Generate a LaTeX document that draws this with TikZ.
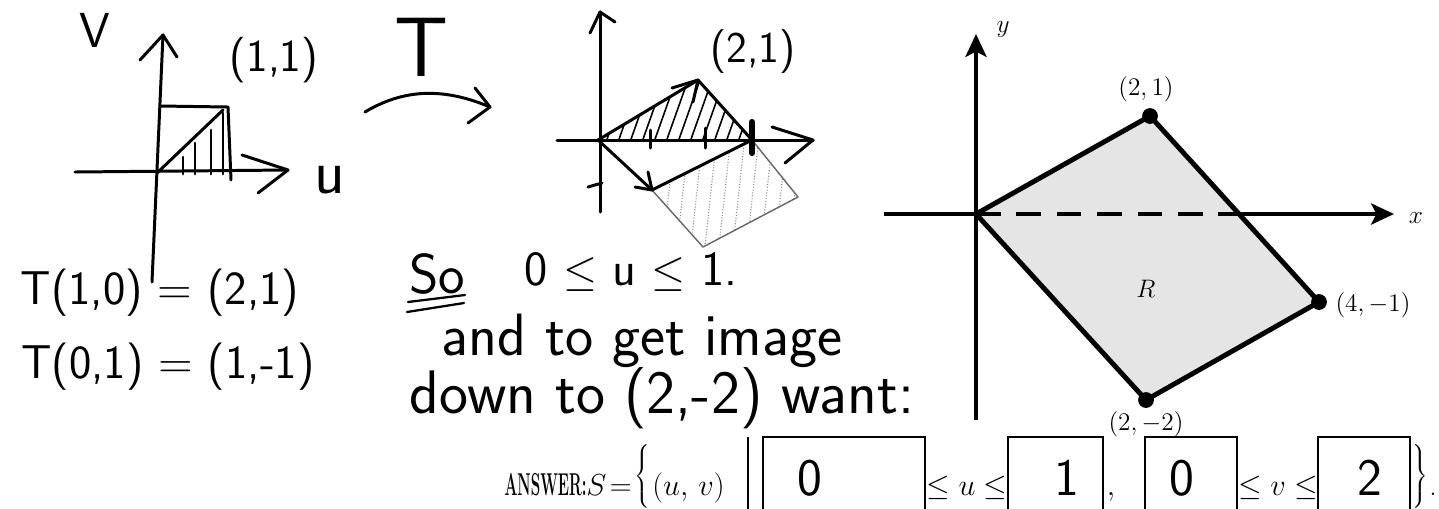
\documentclass[tikz,border=0pt]{standalone}
\usepackage{fontspec}
\usepackage{graphicx}
\usetikzlibrary{arrows.meta}
\tikzset{
  pen/.style={line width=1.7pt,line cap=round,line join=round},
  penthin/.style={line width=0.8pt,black!60,line cap=round,line join=round},
  hand/.style={font=\sffamily\fontsize{#1}{#1}\selectfont,inner sep=0pt},
  hand/.default=27,
  print/.style={font=\fontsize{17}{20}\selectfont,inner sep=0pt},
  ptlabel/.style={font=\fontsize{15}{18}\selectfont,inner sep=0pt},
  edge/.style={line width=2.8pt,line join=round},
  axisline/.style={line width=2.4pt},
  axis/.style={axisline,-{Stealth[length=13pt,width=12pt,inset=3pt]}},
  vertex/.style={circle,fill=black,inner sep=0pt,minimum size=9pt},
  ansbox/.style={draw,line width=0.7pt,minimum height=1.56cm},
}
\begin{document}
\begin{tikzpicture}[x=0.02cm,y=-0.02cm]
\path[use as bounding box] (0,0) rectangle (1439,508);
% left sketch: the square in the uv-plane
\coordinate (vbot) at (152,282);
\coordinate (vtop) at (163,35);
\coordinate (uleft) at (75,172);
\coordinate (uright) at (288,170);
\draw[pen] (vbot) -- (vtop);
\draw[pen] (140,60) -- (vtop) -- (177,57);
\draw[pen] (uleft) -- (uright);
\draw[pen] (242,155) -- (uright) -- (258,193);
\coordinate (sq0) at (157,173);
\coordinate (sqa) at (160,106);
\coordinate (sqb) at (228,107);
\coordinate (sqc) at (231,180);
\draw[pen] (sqa) -- (sqb) -- (sqc);
\draw[pen] (sq0) -- (223,110);
\foreach \hx/\hy in {183/157,195/143,211/130,223/113}
  \draw[pen] (\hx,\hy) -- (\hx,174);
\node[hand=28] (vlab) at (95,30) {V};
\node[hand=26] (pt11) at (274,60) {(1,1)};
\node[hand=36] (ulab) at (330,180) {u};
% the map T
\node[hand=48] (tmap) at (422,47) {T};
\coordinate (ta) at (365,112);
\coordinate (tb) at (490,107);
\draw[pen] (ta) .. controls (405,88) and (445,88) .. (tb);
\draw[pen] (475,88) -- (tb) -- (468,123);
% middle sketch: image of the square
\coordinate (O2) at (598,140);
\coordinate (P) at (698,80);
\coordinate (Q) at (752,140);
\coordinate (M) at (652,190);
\coordinate (Bt) at (703,247);
\coordinate (Rt) at (798,197);
\coordinate (ytop) at (600,12);
\coordinate (xright) at (813,140);
\begin{scope}
  \clip (O2) -- (P) -- (Q) -- cycle;
  \foreach \hx in {606,618,...,762}
    \draw[line width=0.9pt] (\hx,142) -- ++(22,-62);
\end{scope}
\begin{scope}
  \clip (M) -- (Bt) -- (Rt) -- (Q) -- cycle;
  \foreach \hx in {662,676,...,800}
    \draw[black!45,line width=0.6pt,densely dotted] (\hx,255) -- ++(12,-110);
\end{scope}
\draw[penthin] (M) -- (Bt) -- (Rt) -- (Q);
\draw[pen] (600,212) -- (ytop);
\draw[pen] (590,33) -- (ytop) -- (615,22);
\draw[pen] (557,140) -- (xright);
\draw[pen] (772,127) -- (xright) -- (785,163);
\draw[pen] (O2) -- (P) -- (Q);
\draw[pen] (O2) -- (M) -- (Q);
\draw[pen] (672,88) -- (P) -- (693,102);
\draw[pen] (635,187) -- (M) -- (648,172);
\draw[pen] (650,130) -- (650,148);
\draw[pen] (705,128) -- (705,148);
\draw[line width=3.5pt,line cap=round] (752,122) -- (752,153);
\draw[pen] (588,187) -- (602,183);
\node[hand=25] (pt21) at (753,52) {(2,1)};
% handwritten notes
\node[hand=27] (t10) at (160,293) {T(1,0) = (2,1)};
\node[hand=27] (t01) at (168,367) {T(0,1) = (1,-1)};
\node[hand=32] (so) at (437,274) {So};
\coordinate (ul1a) at (408,302);
\coordinate (ul1b) at (465,295);
\coordinate (ul2a) at (407,312);
\coordinate (ul2b) at (464,303);
\draw[pen,line width=1.3pt] (ul1a) -- (ul1b);
\draw[pen,line width=1.3pt] (ul2a) -- (ul2b);
\node[hand=28] (ineq) at (631,272) {0 $\leq$ u $\leq$ 1.};
\node[hand=34] (note1) at (642,341) {and to get image};
\node[hand=35] (note2) at (662,398) {down to (2,-2) want:};
% right diagram: region R
\coordinate (O) at (976,214);
\coordinate (A) at (1150,116);
\coordinate (B) at (1319,302);
\coordinate (C) at (1146,400);
\coordinate (X) at (1239,214);
\coordinate (xl) at (884,214);
\coordinate (xr) at (1394,214);
\coordinate (yb) at (976,420);
\coordinate (yt) at (976,34);
\fill[black!10] (O) -- (A) -- (B) -- (C) -- cycle;
\draw[axisline] (xl) -- (O);
\draw[axis] (X) -- (xr);
\draw[axis] (yb) -- (yt);
\draw[line width=2.8pt,dash pattern=on 14pt off 9pt] (O) -- (X);
\draw[edge] (O) -- (A) -- (B) -- (C) -- cycle;
\foreach \p in {A,B,C}
  \node[vertex] at (\p) {};
\node[ptlabel] (xlab) at (1416,218) {$x$};
\node[ptlabel] (ylab) at (1003,30) {$y$};
\node[ptlabel] (lA) at (1146,89) {$(2,1)$};
\node[ptlabel] (lB) at (1373,305) {$(4,-1)$};
\node[ptlabel] (lC) at (1146,424) {$(2,-2)$};
\node[ptlabel] (lR) at (1146,289) {$R$};
% answer line
\node[print,anchor=base east,font=\fontsize{18}{20}\selectfont] (ans) at (587,495) {\scalebox{0.48}[1]{\bfseries ANSWER:}};
\node[print,anchor=base east] (seq) at (632,495) {$S\mkern2mu{=}$};
\node[print] (lbr) at (643,476) {$\left\{\vrule height 24pt depth 15pt width 0pt\right.$};
\node[print,anchor=base west,font=\fontsize{19}{22}\selectfont] (uv) at (652,495) {$(u,\,v)$};
\coordinate (bart) at (748,437);
\coordinate (barb) at (748,510);
\draw[line width=0.7pt] (bart) -- (barb);
\node[ansbox,minimum width=3.24cm] (box1) at (844,476) {};
\node[ansbox,minimum width=1.90cm] (box2) at (1055.5,476) {};
\node[ansbox,minimum width=1.84cm] (box3) at (1191,476) {};
\node[ansbox,minimum width=1.84cm] (box4) at (1364,476) {};
\node[print,anchor=base] (le1) at (967,495) {$\leq u\leq$};
\node[print,anchor=base] (comma) at (1111,495) {$,$};
\node[print,anchor=base] (le2) at (1278,495) {$\leq v\leq$};
\node[print] (rbr) at (1419,476) {$\left.\vrule height 24pt depth 15pt width 0pt\right\}$};
\node[print,anchor=base west] (stop) at (1429,495) {.};
\node[hand=30] (d1) at (810,478) {0};
\node[hand=30] (d2) at (1067,478) {1};
\node[hand=30] (d3) at (1182,478) {0};
\node[hand=30] (d4) at (1370,478) {2};
\end{tikzpicture}
\end{document}
